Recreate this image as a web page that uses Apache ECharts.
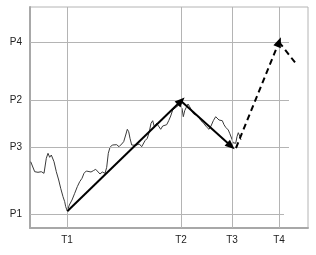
<!DOCTYPE html>
<html>
<head>
<meta charset="utf-8">
<script src="https://cdn.jsdelivr.net/npm/echarts@6/dist/echarts.min.js"></script>
<style>
  html, body { margin: 0; padding: 0; background: #fff; }
  #chart { width: 316px; height: 255px; }
</style>
</head>
<body>
<div id="chart"></div>
<script>
// tick positions (in chart units) and their names
const timeTicks = [37, 151, 202, 249];
const timeNames = ["T1", "T2", "T3", "T4"];
const priceTicks = [14, 81, 128, 186];
const priceNames = ["P1", "P3", "P2", "P4"];

// the jagged price path
const priceX = [0.7, 4.7, 8, 11.3, 14, 16.3, 18, 19.7, 21.3, 24, 26.3, 28.7, 30.7, 33, 34.7, 35.7, 37.3,
  39.3, 42, 44.7, 47.3, 49.7, 52, 54, 56.3, 58.3, 61, 63.3, 65.7, 67.7, 70, 72.3, 75, 76.7, 78.3, 80,
  82.3, 84.3, 86.7, 89, 91.7, 93.7, 95.7, 97.3, 98.7, 100, 101.7, 103.7, 105.7, 107.7, 109.3, 111.7,
  115, 117.3, 119.3, 121, 122.7, 124.3, 126.7, 128.7, 130.7, 132.7, 134.7, 136.7, 138.7, 140.7, 142.7,
  144.3, 146, 147.7, 149.3, 150.7, 152, 153.3, 154.7, 156.3, 158, 159.7, 161.7, 163.7, 165.7, 168,
  171, 173.7, 176.3, 179, 181, 183.3, 185.7, 187.3, 189, 190.7, 192.3, 194, 195.7, 197, 198.3, 199.7,
  201, 202, 203, 204.3, 205.7, 207, 208.3, 209.7, 211];
const priceY = [66.3, 56.3, 55.7, 56.3, 54.7, 69.7, 74.7, 70.7, 73, 66.3, 56.3, 48, 39.7, 31.3, 26.3, 21.3, 17,
  23, 28, 34.7, 41.3, 46.3, 49.7, 54.7, 57, 58, 56, 57.3, 58.7, 57.3, 54, 56, 54.7, 60.7, 74.7, 80.7,
  83, 81.3, 83.3, 81.3, 84, 86.3, 93, 98.7, 96.3, 89.7, 83, 84.7, 82.7, 80.7, 84, 81.3,
  87.3, 89.7, 96.3, 104.7, 107.3, 101.3, 104.7, 102.7, 98.7, 102, 100, 103.3, 107.3, 112, 118,
  116, 120.7, 118.7, 123.3, 125.3, 119.7, 111.3, 117.3, 120.7, 124, 121.3, 117.3, 114, 116, 112,
  107.3, 104.7, 101.3, 98.7, 102, 107.3, 111.3, 112.7, 108, 106, 107.3, 103.3, 100.7, 102.7, 98, 94.7,
  96, 88.7, 85.3, 83.7, 84.7, 91.3, 95.3, 92, 88];

// trend arrows: [x1, y1, x2, y2]
const solidArrows = [[37.3, 16.7, 151, 127], [151, 127, 201, 82]];
const dashedArrow = [206, 80, 249, 186];
const dashedTail = [249, 186, 267, 163];

const xMax = 278;
const yMax = 221;
const hGridEnd = [254, 259, 259, 259];

const chart = echarts.init(document.getElementById("chart"));

const gridLines = [];
timeTicks.forEach((t) => {
  gridLines.push([{ coord: [t, 0] }, { coord: [t, yMax] }]);
});
priceTicks.forEach((p, i) => {
  gridLines.push([{ coord: [0, p] }, { coord: [hGridEnd[i], p] }]);
});

const arrowLine = (a, endSymbol) => [
  { coord: [a[0], a[1]], symbol: "none" },
  { coord: [a[2], a[3]], symbol: endSymbol },
];

const labelFont = { fontFamily: "Liberation Sans", fontSize: 10, color: "#222" };

chart.setOption({
  animation: false,
  grid: {
    left: 30, right: 8, top: 7, bottom: 27,
    show: true, borderColor: "#b4b4b4", borderWidth: 1,
  },
  xAxis: {
    type: "value", min: 0, max: xMax,
    splitLine: { show: false },
    axisTick: { show: false },
    axisLine: { show: true, lineStyle: { color: "#a8a8a8", width: 2 } },
    axisLabel: Object.assign({
      customValues: timeTicks,
      margin: 7,
      formatter: (v) => timeNames[timeTicks.indexOf(v)] || "",
    }, labelFont),
  },
  yAxis: {
    type: "value", min: 0, max: yMax,
    splitLine: { show: false },
    axisTick: { show: false },
    axisLine: { show: true, lineStyle: { color: "#a8a8a8", width: 2 } },
    axisLabel: Object.assign({
      customValues: priceTicks,
      margin: 8,
      formatter: (v) => priceNames[priceTicks.indexOf(v)] || "",
    }, labelFont),
  },
  series: [
    {
      type: "line",
      data: [],
      silent: true,
      markLine: {
        silent: true,
        symbol: "none",
        label: { show: false },
        lineStyle: { color: "#b4b4b4", width: 1, type: "solid" },
        data: gridLines,
      },
    },
    {
      type: "line",
      data: priceX.map((x, i) => [x, priceY[i]]),
      symbol: "none",
      lineStyle: { color: "#3a3a3a", width: 1 },
    },
    {
      type: "line",
      data: [],
      markLine: {
        silent: true,
        symbolSize: [8, 10],
        label: { show: false },
        lineStyle: { color: "#000", width: 2, type: "solid" },
        data: solidArrows.map((a) => arrowLine(a, "triangle")),
      },
    },
    {
      type: "line",
      data: [],
      markLine: {
        silent: true,
        symbolSize: [8, 10],
        label: { show: false },
        lineStyle: { color: "#000", width: 2, type: [6, 4] },
        data: [arrowLine(dashedArrow, "triangle"), arrowLine(dashedTail, "none")],
      },
    },
  ],
});
</script>
</body>
</html>
